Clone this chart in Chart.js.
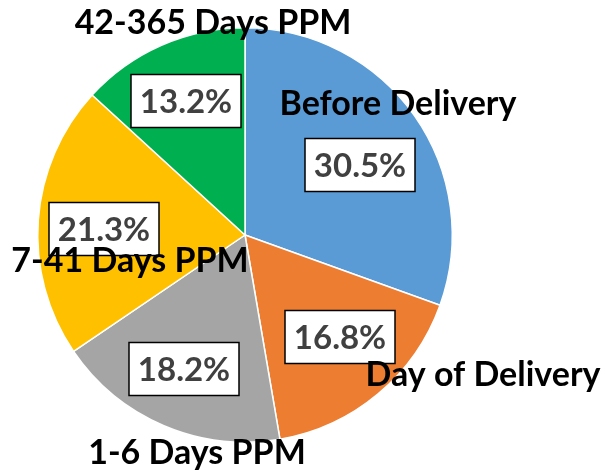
<!DOCTYPE html>
<html>
<head>
<meta charset="utf-8">
<script src="https://cdn.jsdelivr.net/npm/chart.js@4"></script>
<style>
  body { margin: 0; background: #fff; }
</style>
</head>
<body>
<canvas id="myChart" width="605" height="470"></canvas>
<script>
// Timing of care, share of total

const categories = [
  "Before Delivery",
  "Day of Delivery",
  "1-6 Days PPM",
  "7-41 Days PPM",
  "42-365 Days PPM",
];
const shares = [30.5, 16.8, 18.2, 21.3, 13.2];
const pctLabels = ["30.5%", "16.8%", "18.2%", "21.3%", "13.2%"];

const colors = ["#5B9BD5", "#ED7D31", "#A5A5A5", "#FFC000", "#00B050"];

// label placement, offsets from the pie centre (px)
const boxPos = [
  [115, -70],
  [95, 102],
  [-61, 134],
  [-141, -6],
  [-59, -134],
];
const namePos = [
  [153, -131],
  [238, 140],
  [-48, 218],
  [-115, 26],
  [-32, -212],
];

const FONT = "Lato";

const labelPlugin = {
  id: "labels",
  afterDraw(chart) {
    const c = chart.ctx;
    const arc = chart.getDatasetMeta(0).data[0];
    const cx = arc.x,
      cy = arc.y;
    c.save();
    c.textAlign = "center";
    c.textBaseline = "middle";
    // percentage boxes
    for (let i = 0; i < shares.length; i++) {
      const x = cx + boxPos[i][0],
        y = cy + boxPos[i][1];
      const w = 110,
        h = 53;
      c.fillStyle = "#fff";
      c.fillRect(x - w / 2, y - h / 2, w, h);
      c.strokeStyle = "#000";
      c.lineWidth = 1.5;
      c.strokeRect(x - w / 2, y - h / 2, w, h);
      c.fillStyle = "#404040";
      c.font = "bold 33px " + FONT;
      c.fillText(pctLabels[i], x, y + 1);
    }
    // category names
    c.fillStyle = "#000";
    c.font = "bold 34px " + FONT;
    for (let i = 0; i < categories.length; i++) {
      c.fillText(categories[i], cx + namePos[i][0], cy + namePos[i][1]);
    }
    c.restore();
  },
};

new Chart(document.getElementById("myChart"), {
  type: "pie",
  data: {
    labels: categories,
    datasets: [
      {
        data: shares,
        backgroundColor: colors,
        borderColor: "#fff",
        borderWidth: 1.5,
      },
    ],
  },
  options: {
    responsive: false,
    animation: false,
    layout: {
      padding: { left: 37, right: 152, top: 27, bottom: 27 },
    },
    plugins: {
      legend: { display: false },
      tooltip: { enabled: false },
    },
  },
  plugins: [labelPlugin],
});
</script>
</body>
</html>
